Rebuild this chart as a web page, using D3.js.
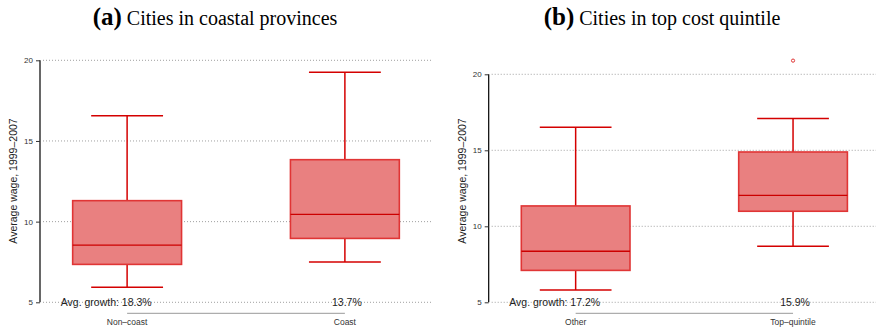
<!DOCTYPE html>
<html lang="en">
<head>
<meta charset="UTF-8" />
<title>Box plots</title>
<script src="https://cdn.jsdelivr.net/npm/d3@7"></script>
<style>
  body { margin: 0; background: #fff; }
  .tick text { font-family: "Liberation Sans", Arial, sans-serif; font-size: 8px; fill: #333; }
</style>
</head>
<body>
<script>
// panel (a): coastal provinces
var titlesA = ["(a)", "Cities in coastal provinces"];
var catsA = ["Non\u2013coast", "Coast"];
// [lower whisker, q1, median, q3, upper whisker]
var statsA = [[5.93, 7.35, 8.55, 11.30, 16.57], [7.50, 8.96, 10.45, 13.84, 19.26]];
var outliersA = [[], []];
var growthA = ["Avg. growth: 18.3%", "13.7%"];

// panel (b): top cost quintile
var titlesB = ["(b)", "Cities in top cost quintile"];
var catsB = ["Other", "Top\u2013quintile"];
var statsB = [[5.81, 7.10, 8.36, 11.34, 16.51], [8.68, 10.99, 12.04, 14.89, 17.10]];
var outliersB = [[], [20.9]];
var growthB = ["Avg. growth: 17.2%", "15.9%"];

var yTicks = [5, 10, 15, 20];
var yLabel = "Average wage, 1999\u20132007";

var W = 876, H = 330;
var svg = d3.select("body").append("svg").attr("width", W).attr("height", H);

var sans = "'Liberation Sans', Arial, sans-serif";
var serif = "'Liberation Serif', 'Times New Roman', serif";

function panel(cfg) {
  var g = svg.append("g");
  var y = d3.scaleLinear().domain([5, 20]).range([302.3, cfg.top]);
  var x = d3.scalePoint().domain(cfg.cats).range([cfg.left, cfg.right]).padding(0.4);
  var step = x.step();

  // title
  var t = g.append("text")
    .attr("x", cfg.titleX).attr("y", 25)
    .attr("text-anchor", "middle")
    .style("font-family", serif);
  t.append("tspan").text(cfg.titles[0]).style("font-weight", "bold").style("font-size", "25px");
  t.append("tspan").text(" " + cfg.titles[1]).style("font-size", "20px");

  // dotted grid
  g.selectAll("line.grid").data(yTicks).enter().append("line")
    .attr("class", "grid")
    .attr("x1", cfg.left + 3).attr("x2", cfg.right)
    .attr("y1", function(d) { return y(d); }).attr("y2", function(d) { return y(d); })
    .attr("stroke", "#888").attr("stroke-width", 0.8)
    .attr("stroke-dasharray", "1,2");

  // y axis
  var yAxis = d3.axisLeft(y).tickValues(yTicks).tickSize(4).tickPadding(3);
  var ya = g.append("g").attr("transform", "translate(" + cfg.left + ",0)").call(yAxis);
  ya.select(".domain").attr("stroke", "#000").attr("stroke-width", 1.2).attr("d", "M0," + y(5) + "V" + y(20));
  ya.selectAll(".tick line").attr("stroke", "#333");

  g.append("text")
    .attr("transform", "translate(" + (cfg.left - 23) + ",181) rotate(-90)")
    .attr("text-anchor", "middle")
    .style("font-family", sans).style("font-size", "10.5px").style("fill", "#222")
    .text(yLabel);

  // boxes
  var boxes = g.selectAll("g.box").data(cfg.stats).enter().append("g").attr("class", "box");
  var bw = step * 0.5, cw = step * 0.33;
  boxes.append("line")
    .attr("x1", function(d, i) { return x(cfg.cats[i]); })
    .attr("x2", function(d, i) { return x(cfg.cats[i]); })
    .attr("y1", function(d) { return y(d[0]); }).attr("y2", function(d) { return y(d[4]); })
    .attr("stroke", "#d40000").attr("stroke-width", 1.5);
  boxes.append("rect")
    .attr("x", function(d, i) { return x(cfg.cats[i]) - bw / 2; })
    .attr("width", bw)
    .attr("y", function(d) { return y(d[3]); })
    .attr("height", function(d) { return y(d[1]) - y(d[3]); })
    .attr("fill", "#e98080").attr("stroke", "#e03535").attr("stroke-width", 1.6);
  [0, 4].forEach(function(k) {
    boxes.append("line")
      .attr("x1", function(d, i) { return x(cfg.cats[i]) - cw / 2; })
      .attr("x2", function(d, i) { return x(cfg.cats[i]) + cw / 2; })
      .attr("y1", function(d) { return y(d[k]); }).attr("y2", function(d) { return y(d[k]); })
      .attr("stroke", "#d40000").attr("stroke-width", 1.5);
  });
  boxes.append("line")
    .attr("x1", function(d, i) { return x(cfg.cats[i]) - bw / 2; })
    .attr("x2", function(d, i) { return x(cfg.cats[i]) + bw / 2; })
    .attr("y1", function(d) { return y(d[2]); }).attr("y2", function(d) { return y(d[2]); })
    .attr("stroke", "#cc0000").attr("stroke-width", 1.3);

  // outliers
  cfg.outliers.forEach(function(arr, i) {
    g.selectAll(null).data(arr).enter().append("circle")
      .attr("cx", x(cfg.cats[i])).attr("cy", function(d) { return y(d); })
      .attr("r", 1.6).attr("fill", "none").attr("stroke", "#e03535").attr("stroke-width", 1);
  });

  // x axis line and labels
  g.append("line")
    .attr("x1", x(cfg.cats[0])).attr("x2", x(cfg.cats[1]))
    .attr("y1", 313.3).attr("y2", 313.3)
    .attr("stroke", "#999").attr("stroke-width", 1);
  g.selectAll("text.cat").data(cfg.cats).enter().append("text")
    .attr("class", "cat")
    .attr("x", function(d) { return x(d); }).attr("y", 324.5)
    .attr("text-anchor", "middle")
    .style("font-family", sans).style("font-size", "8.5px").style("fill", "#333")
    .text(function(d) { return d; });

  // growth annotations
  g.selectAll("text.growth").data(cfg.growth).enter().append("text")
    .attr("class", "growth")
    .attr("x", function(d, i) { return i === 0 ? x(cfg.cats[0]) + 24.5 : x(cfg.cats[1]) + 2; })
    .attr("y", y(5) + 3.8)
    .attr("text-anchor", function(d, i) { return i === 0 ? "end" : "middle"; })
    .style("font-family", sans).style("font-size", "10.5px").style("fill", "#222")
    .text(function(d) { return d; });
}

panel({ titles: titlesA, cats: catsA, stats: statsA, outliers: outliersA, growth: growthA,
        left: 40, right: 432, top: 60.3, titleX: 215 });
panel({ titles: titlesB, cats: catsB, stats: statsB, outliers: outliersB, growth: growthB,
        left: 488.7, right: 880, top: 74.3, titleX: 662 });
</script>
</body>
</html>
